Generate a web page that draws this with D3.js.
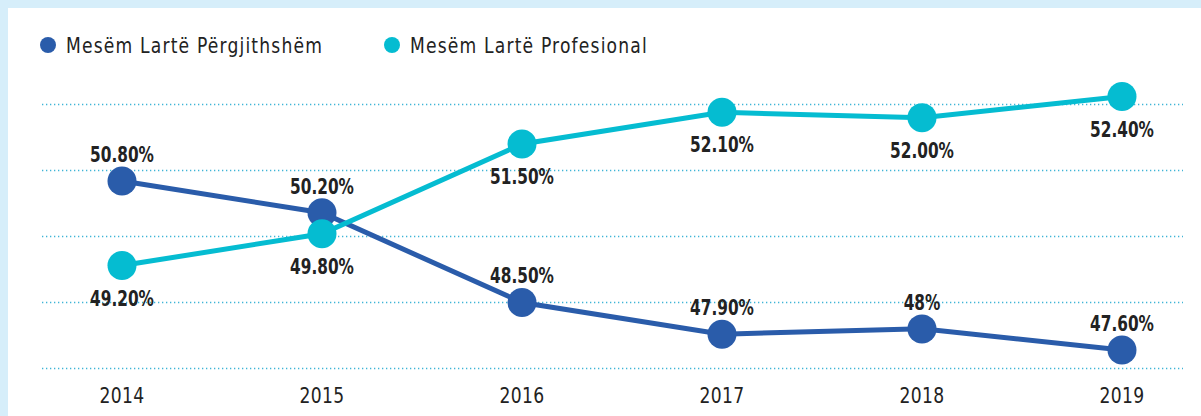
<!DOCTYPE html>
<html>
<head>
<meta charset="utf-8">
<script src="https://cdn.jsdelivr.net/npm/d3@7"></script>
<style>
  body { margin:0; background:#d6eefa; }
  svg { display:block; }
  text { font-family: "DejaVu Sans", sans-serif; }
</style>
</head>
<body>
<div id="chart"></div>
<script>
var svgW = 1201, svgH = 416;

var years = ['2014','2015','2016','2017','2018','2019'];
var general = [50.80, 50.20, 48.50, 47.90, 48.00, 47.60];
var generalLabels = ['50.80%','50.20%','48.50%','47.90%','48%','47.60%'];
var vocational = [49.20, 49.80, 51.50, 52.10, 52.00, 52.40];
var vocationalLabels = ['49.20%','49.80%','51.50%','52.10%','52.00%','52.40%'];
var seriesNames = ['Mesëm Lartë Përgjithshëm','Mesëm Lartë Profesional'];
var gridValues = [47.25, 48.5, 49.75, 51.0, 52.25];

var darkBlue = '#2a5caa', cyan = '#05bcd1';

var svg = d3.select('#chart').append('svg')
  .attr('width', svgW).attr('height', svgH);

// white card inside the light blue frame
svg.append('rect').attr('x', 8).attr('y', 8)
  .attr('width', svgW - 8).attr('height', svgH - 8)
  .attr('fill', '#fff');

var x = d3.scalePoint().domain(years).range([122, 1122]);
var y = d3.scaleLinear().domain([47.6, 50.8]).range([350, 181]);

// narrow the wide fallback font so it looks like the DIN-style original
function squeeze(sx) {
  return function(sel) {
    sel.attr('transform', function(){
      var t = d3.select(this);
      var tx = +t.attr('data-x'), ty = +t.attr('data-y');
      return 'translate(' + tx + ',' + ty + ') scale(' + sx + ',1)';
    });
  };
}

// dotted grid
svg.append('g').selectAll('line')
  .data(gridValues).enter()
  .append('line')
    .attr('x1', 42).attr('x2', 1183)
    .attr('y1', function(d){ return Math.round(y(d)) + 0.5; })
    .attr('y2', function(d){ return Math.round(y(d)) + 0.5; })
    .attr('stroke', '#3fb4d6')
    .attr('stroke-width', 1.3)
    .attr('stroke-dasharray', '1.3,2.7');

// year labels
svg.append('g').selectAll('text')
  .data(years).enter()
  .append('text')
    .attr('data-x', function(d){ return x(d); })
    .attr('data-y', 403)
    .attr('text-anchor', 'middle')
    .style('font-size', '22px')
    .style('letter-spacing', '0.5px')
    .attr('fill', '#222')
    .text(function(d){ return d; })
    .call(squeeze(0.78));

var line = d3.line()
  .x(function(d, i){ return x(years[i]); })
  .y(function(d){ return y(d); });

function drawSeries(values, color) {
  var g = svg.append('g');
  g.append('path')
    .datum(values)
    .attr('d', line)
    .attr('fill', 'none')
    .attr('stroke', color)
    .attr('stroke-width', 5);
  g.selectAll('circle')
    .data(values).enter()
    .append('circle')
      .attr('cx', function(d, i){ return x(years[i]); })
      .attr('cy', function(d){ return y(d); })
      .attr('r', 14.5)
      .attr('fill', color);
  return g;
}

function drawLabels(values, labels, dy) {
  svg.append('g').selectAll('text')
    .data(values).enter()
    .append('text')
      .attr('data-x', function(d, i){ return x(years[i]); })
      .attr('data-y', function(d){ return y(d) + dy; })
      .attr('text-anchor', 'middle')
      .style('font-weight', 'bold')
      .style('font-size', '21px')
      .attr('fill', '#222')
      .text(function(d, i){ return labels[i]; })
      .call(squeeze(0.73));
}

drawSeries(general, darkBlue);
drawSeries(vocational, cyan);
drawLabels(general, generalLabels, -19);
drawLabels(vocational, vocationalLabels, 40);

// legend
var legend = svg.append('g');
var legendX = [48, 392];
var legendColors = [darkBlue, cyan];
seriesNames.forEach(function(name, i){
  legend.append('circle')
    .attr('cx', legendX[i]).attr('cy', 45).attr('r', 8)
    .attr('fill', legendColors[i]);
  legend.append('text')
    .attr('data-x', legendX[i] + 18).attr('data-y', 53)
    .style('font-size', '22px')
    .style('letter-spacing', '1.5px')
    .attr('fill', '#222')
    .text(name)
    .call(squeeze(0.78));
});
</script>
</body>
</html>
